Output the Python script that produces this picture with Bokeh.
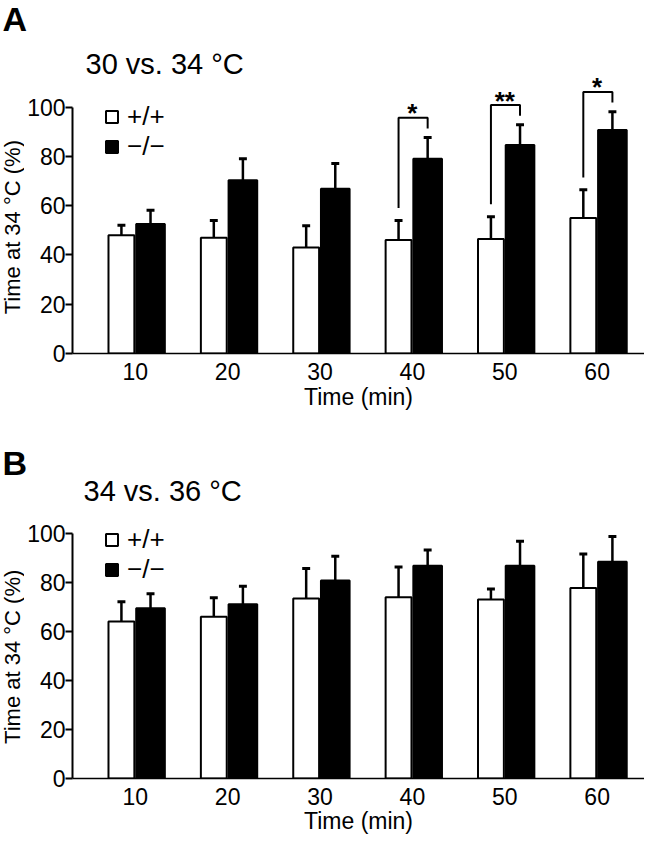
from math import pi

from bokeh.core.properties import value
from bokeh.embed import file_html
from bokeh.layouts import column, row
from bokeh.models import (ColumnDataSource, FixedTicker, Label, Legend,
                          LegendItem, Range1d)
from bokeh.plotting import figure
from bokeh.resources import INLINE

# ---------------- data ----------------
times = [10, 20, 30, 40, 50, 60]

a_wt = [48.0, 47.0, 43.0, 46.0, 46.5, 55.0]
a_wt_err = [4.0, 7.0, 8.8, 8.0, 9.0, 11.4]
a_ko = [52.5, 70.3, 66.8, 79.0, 84.6, 90.7]
a_ko_err = [5.6, 8.7, 10.3, 8.6, 8.2, 7.4]
a_sig_times = [40, 50, 60]
a_sig_marks = ["*", "**", "*"]

b_wt = [64.0, 65.9, 73.4, 73.9, 73.0, 77.7]
b_wt_err = [8.1, 7.8, 12.2, 12.3, 4.3, 13.8]
b_ko = [69.4, 71.0, 80.7, 86.7, 86.7, 88.4]
b_ko_err = [5.9, 7.4, 9.9, 6.5, 10.0, 10.3]
b_sig_times = []
b_sig_marks = []

y_ticks = [0, 20, 40, 60, 80, 100]
legend_labels = ["+/+", "\u2212/\u2212"]
panel_titles = ["30 vs. 34 \u00b0C", "34 vs. 36 \u00b0C"]
panel_letters = ["A", "B"]
x_title = "Time (min)"
y_title = "Time at 34 \u00b0C (%)"

# ---------------- style ----------------
FONT = "Liberation Sans"
PX_PER_MIN = 9.27
WT_OFF, WT_W = -1.5, 2.8
KO_OFF, KO_W = 1.65, 3.1
CAP = 0.43
TOTAL_W = 644
YLAB_W = 24


def text_fig(w, h):
    f = figure(width=w, height=h, x_range=Range1d(0, w), y_range=Range1d(h, 0),
               output_backend="svg", toolbar_location=None,
               x_axis_type=None, y_axis_type=None, min_border=0)
    f.outline_line_color = None
    f.grid.visible = False
    return f


def header(letter, h, letter_y, title=None, title_y=None):
    f = text_fig(TOTAL_W, h)
    f.text(x=[2], y=[letter_y], text=[letter], text_align="left",
           text_baseline="alphabetic", text_font=value(FONT),
           text_font_style="bold", text_font_size="34px", text_color="black")
    if title is not None:
        f.text(x=[83], y=[title_y], text=[title], text_align="left",
               text_baseline="alphabetic", text_font=value(FONT),
               text_font_size="29px", text_color="black")
    return f


def ylabel_fig(h, start):
    f = text_fig(YLAB_W, h)
    f.text(x=[YLAB_W / 2], y=[start], text=[y_title], angle=pi / 2,
           text_align="left", text_baseline="middle", text_font=value(FONT),
           text_font_size="22px", text_color="black")
    return f


def make_panel(wt, wt_err, ko, ko_err, sig_times, sig_marks, title,
               height, border_bottom, px_per_unit, title_y, legend_vy,
               xlabel_standoff):
    frame_h = height - border_bottom
    y_end = frame_h / px_per_unit
    plot_w = TOTAL_W - YLAB_W
    border_left = 70 - YLAB_W
    x_start = times[0] - 63 / PX_PER_MIN
    x_end = x_start + (plot_w - border_left) / PX_PER_MIN

    p = figure(width=plot_w, height=height,
               x_range=Range1d(x_start, x_end), y_range=Range1d(0, y_end),
               output_backend="svg", toolbar_location=None,
               min_border_left=border_left, min_border_right=0,
               min_border_top=0, min_border_bottom=border_bottom)
    p.outline_line_color = None
    p.xgrid.visible = False
    p.ygrid.visible = False

    x_wt = [t + WT_OFF for t in times]
    x_ko = [t + KO_OFF for t in times]
    src = ColumnDataSource(dict(
        x_wt=x_wt, x_ko=x_ko, wt=wt, ko=ko,
        wt_hi=[v + e for v, e in zip(wt, wt_err)],
        ko_hi=[v + e for v, e in zip(ko, ko_err)],
        wt_c0=[x - CAP for x in x_wt], wt_c1=[x + CAP for x in x_wt],
        ko_c0=[x - CAP for x in x_ko], ko_c1=[x + CAP for x in x_ko],
    ))

    rw = p.vbar(x="x_wt", top="wt", bottom=0, width=WT_W, source=src,
                fill_color="white", line_color="black", line_width=2)
    rb = p.vbar(x="x_ko", top="ko", bottom=0, width=KO_W, source=src,
                fill_color="black", line_color="black", line_width=2)

    for xc, lo, hi, c0, c1 in (("x_wt", "wt", "wt_hi", "wt_c0", "wt_c1"),
                               ("x_ko", "ko", "ko_hi", "ko_c0", "ko_c1")):
        p.segment(x0=xc, y0=lo, x1=xc, y1=hi, source=src,
                  line_color="black", line_width=2.5)
        p.segment(x0=c0, y0=hi, x1=c1, y1=hi, source=src,
                  line_color="black", line_width=3)

    # significance brackets
    if sig_times:
        xs, ys, tops = [], [], []
        for t in sig_times:
            i = times.index(t)
            w_hi = wt[i] + wt_err[i]
            k_hi = ko[i] + ko_err[i]
            top = k_hi + 8
            xs.append([t + WT_OFF, t + WT_OFF, t + KO_OFF, t + KO_OFF])
            ys.append([w_hi + 5, top, top, k_hi + 3.7])
            tops.append(top)
        p.multi_line(xs=xs, ys=ys, line_color="black", line_width=2)
        p.text(x=sig_times, y=tops, text=sig_marks, text_align="center",
               text_baseline="alphabetic", y_offset=-4.5,
               text_font=value(FONT), text_font_style="bold",
               text_font_size="26px", text_color="black")

    # axes
    ya = p.yaxis[0]
    ya.ticker = FixedTicker(ticks=y_ticks)
    ya.bounds = (0, 100)
    ya.axis_line_width = 2
    ya.major_tick_line_width = 2
    ya.major_tick_out = 7
    ya.major_tick_in = 0
    ya.minor_tick_out = 0
    ya.minor_tick_in = 0
    ya.major_label_standoff = 0
    ya.major_label_text_font = FONT
    ya.major_label_text_font_size = "23px"
    ya.major_label_text_color = "black"

    xa = p.xaxis[0]
    xa.ticker = FixedTicker(ticks=times)
    xa.axis_line_width = 1.5
    xa.major_tick_out = 0
    xa.major_tick_in = 0
    xa.minor_tick_out = 0
    xa.minor_tick_in = 0
    xa.major_label_standoff = 9
    xa.major_label_text_font = FONT
    xa.major_label_text_font_size = "23px"
    xa.major_label_text_color = "black"
    xa.axis_label = x_title
    xa.axis_label_text_font = FONT
    xa.axis_label_text_font_size = "23px"
    xa.axis_label_text_font_style = "normal"
    xa.axis_label_text_color = "black"
    xa.axis_label_standoff = xlabel_standoff

    if title is not None:
        p.add_layout(Label(x=13, x_units="screen", y=title_y, y_units="data",
                           text=title, text_align="left",
                           text_baseline="alphabetic", text_font=FONT,
                           text_font_size="29px", text_color="black"))

    for lab, rend, vy in zip(legend_labels, (rw, rb), legend_vy):
        p.add_layout(Legend(items=[LegendItem(label=lab, renderers=[rend])],
                            location=(32, vy), orientation="vertical",
                            glyph_width=15, glyph_height=15, label_standoff=8,
                            label_text_font=FONT, label_text_font_size="26px",
                            label_text_color="black", padding=0, margin=0,
                            border_line_alpha=0, background_fill_alpha=0))
    return p


# panel A: header 0-40, plot 40-415 (frame bottom at 353)
HA_H, PA_H = 40, 375
pa = make_panel(a_wt, a_wt_err, a_ko, a_ko_err, a_sig_times, a_sig_marks,
                panel_titles[0], height=PA_H, border_bottom=62,
                px_per_unit=2.465, title_y=117.6, legend_vy=(221, 191),
                xlabel_standoff=1)
# panel B: header 415-508 (letter + title), plot 508-836 (frame bottom 781)
HB_H, PB_H = 93, 328
pb = make_panel(b_wt, b_wt_err, b_ko, b_ko_err, b_sig_times, b_sig_marks,
                None, height=PB_H, border_bottom=55,
                px_per_unit=2.48, title_y=None, legend_vy=(223, 193),
                xlabel_standoff=0)

layout = column(
    header(panel_letters[0], HA_H, 18.5),
    row(ylabel_fig(PA_H, 328), pa, spacing=0),
    header(panel_letters[1], HB_H, 47.1, panel_titles[1], 75.0),
    row(ylabel_fig(PB_H, 286), pb, spacing=0),
    spacing=0,
)
open("out.html", "w").write(file_html(layout, INLINE))
